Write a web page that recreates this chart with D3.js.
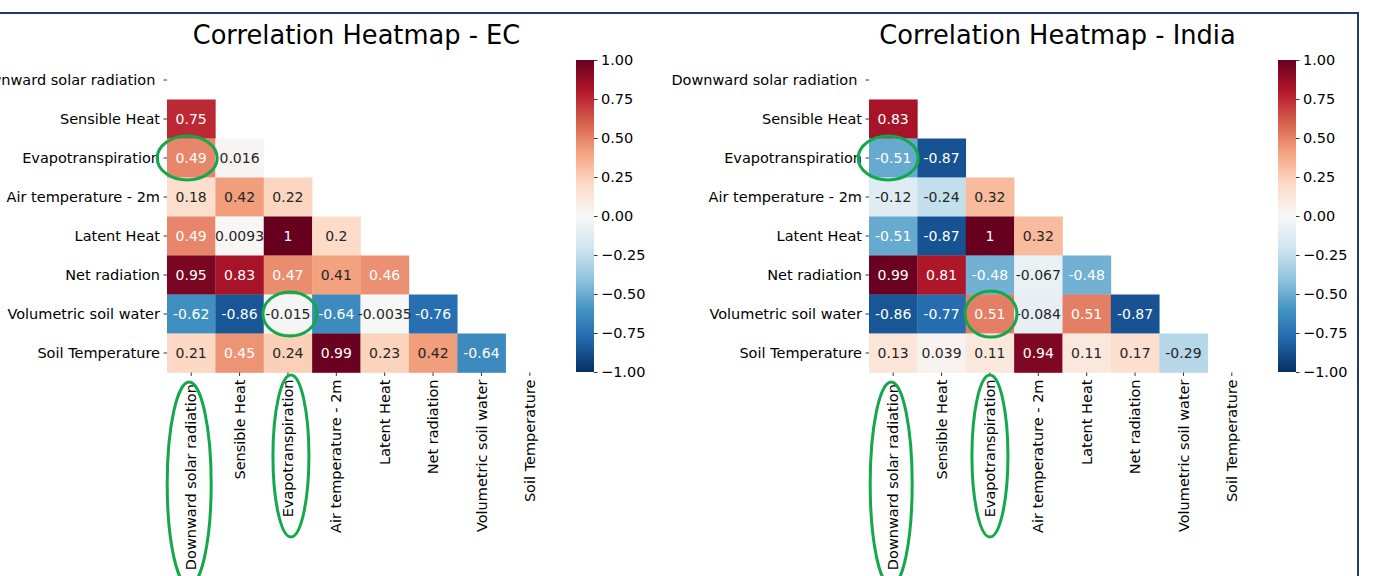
<!DOCTYPE html>
<html>
<head>
<meta charset="utf-8">
<title>Correlation Heatmaps</title>
<script src="https://d3js.org/d3.v7.min.js"></script>
<style>
  body { margin: 0; background: #fff; }
  svg { font-family: "DejaVu Sans", sans-serif; }
  .axis path { display: none; }
  .axis line { stroke: #000; stroke-width: 0.8; }
  .axis text { font-family: "DejaVu Sans", sans-serif; font-size: 14.5px; fill: #000; white-space: pre; }
</style>
</head>
<body>
<script>
  var variables = ["Downward solar radiation ", "Sensible Heat", "Evapotranspiration",
    "Air temperature - 2m", "Latent Heat", "Net radiation", "Volumetric soil water", "Soil Temperature"];

  // lower triangle only, row i holds columns 0..i-1
  var ecValues = [
    [],
    [0.75],
    [0.49, 0.016],
    [0.18, 0.42, 0.22],
    [0.49, 0.0093, 1, 0.2],
    [0.95, 0.83, 0.47, 0.41, 0.46],
    [-0.62, -0.86, -0.015, -0.64, -0.0035, -0.76],
    [0.21, 0.45, 0.24, 0.99, 0.23, 0.42, -0.64]
  ];
  var indiaValues = [
    [],
    [0.83],
    [-0.51, -0.87],
    [-0.12, -0.24, 0.32],
    [-0.51, -0.87, 1, 0.32],
    [0.99, 0.81, -0.48, -0.067, -0.48],
    [-0.86, -0.77, 0.51, -0.084, 0.51, -0.87],
    [0.13, 0.039, 0.11, 0.94, 0.11, 0.17, -0.29]
  ];
  var colorbarTicks = [-1, -0.75, -0.5, -0.25, 0, 0.25, 0.5, 0.75, 1];

  // matplotlib RdBu_r
  var rdbu = ["#67001f", "#b2182b", "#d6604d", "#f4a582", "#fddbc7", "#f7f7f7",
    "#d1e5f0", "#92c5de", "#4393c3", "#2166ac", "#053061"];
  var color = d3.scaleLinear()
    .domain(d3.range(11).map(function(i) { return 1 - i * 0.2; }))
    .range(rdbu)
    .interpolate(d3.interpolateRgb);

  var W = 1374, H = 576;
  var svg = d3.select("body").append("svg").attr("width", W).attr("height", H);

  var fmt = d3.format(".2~g");
  function label(v) { return fmt(v).replace("\u2212", "-"); }

  function luminance(c) {
    var rgb = d3.rgb(c);
    var ch = [rgb.r, rgb.g, rgb.b].map(function(v) {
      v = v / 255;
      return v <= 0.03928 ? v / 12.92 : Math.pow((v + 0.055) / 1.055, 2.4);
    });
    return 0.2126 * ch[0] + 0.7152 * ch[1] + 0.0722 * ch[2];
  }

  var grad = svg.append("defs").append("linearGradient")
    .attr("id", "cbar").attr("x1", 0).attr("x2", 0).attr("y1", 0).attr("y2", 1);
  rdbu.forEach(function(c, i) {
    grad.append("stop").attr("offset", (i / 10 * 100) + "%").attr("stop-color", c);
  });

  function drawHeatmap(opts) {
    var left = opts.left, top = 60.5, width = 387, height = 312;
    var g = svg.append("g");

    var x = d3.scaleBand().domain(d3.range(variables.length)).range([left, left + width]);
    var y = d3.scaleBand().domain(d3.range(variables.length)).range([top, top + height]);

    var cells = [];
    opts.values.forEach(function(row, i) {
      row.forEach(function(v, j) { cells.push({ r: i, c: j, v: v }); });
    });

    g.selectAll("rect.cell")
      .data(cells)
      .enter().append("rect")
      .attr("class", "cell")
      .attr("x", function(d) { return x(d.c); })
      .attr("y", function(d) { return y(d.r); })
      .attr("width", x.bandwidth() + 0.3)
      .attr("height", y.bandwidth() + 0.3)
      .attr("fill", function(d) { return color(d.v); });

    g.selectAll("text.annot")
      .data(cells)
      .enter().append("text")
      .attr("class", "annot")
      .attr("x", function(d) { return x(d.c) + x.bandwidth() / 2; })
      .attr("y", function(d) { return y(d.r) + y.bandwidth() / 2; })
      .attr("dy", "0.36em")
      .attr("text-anchor", "middle")
      .style("font-size", "14px")
      .attr("fill", function(d) { return luminance(color(d.v)) > 0.408 ? "#262626" : "#fff"; })
      .text(function(d) { return label(d.v); });

    var yAxis = d3.axisLeft(y).tickSize(3.5).tickPadding(3.5)
      .tickFormat(function(i) { return variables[i]; });
    g.append("g").attr("class", "axis")
      .attr("transform", "translate(" + left + ",0)")
      .call(yAxis);

    var xAxis = d3.axisBottom(x).tickSize(3.5).tickPadding(3.5)
      .tickFormat(function(i) { return variables[i]; });
    g.append("g").attr("class", "axis")
      .attr("transform", "translate(0," + (top + height) + ")")
      .call(xAxis)
      .selectAll("text")
      .attr("transform", "rotate(-90)")
      .attr("text-anchor", "end")
      .attr("x", -7)
      .attr("y", 0)
      .attr("dy", "0.35em");

    g.append("text")
      .attr("x", left + width / 2 + opts.titleDx)
      .attr("y", 44)
      .attr("text-anchor", "middle")
      .style("font-size", "25.7px")
      .attr("fill", "#000")
      .text(opts.title);

    // colorbar
    var cbx = left + 409, cbw = 18;
    var cy = d3.scaleLinear().domain([-1, 1]).range([top + height - 0.5, top - 0.5]);
    g.append("rect")
      .attr("x", cbx).attr("y", cy(1))
      .attr("width", cbw).attr("height", cy(-1) - cy(1))
      .attr("fill", "url(#cbar)");
    g.append("g").attr("class", "axis")
      .attr("transform", "translate(" + (cbx + cbw) + ",0)")
      .call(d3.axisRight(cy).tickValues(colorbarTicks).tickSize(3.5).tickPadding(3.5)
        .tickFormat(d3.format(".2f")));

    // green highlight ellipses
    var green = "#13a84b";
    opts.cellMarks.forEach(function(m) {
      g.append("ellipse")
        .attr("cx", x(m.c) + x.bandwidth() / 2 + (m.dx || 0))
        .attr("cy", y(m.r) + y.bandwidth() / 2)
        .attr("rx", m.rx).attr("ry", m.ry)
        .attr("fill", "none").attr("stroke", green).attr("stroke-width", 3);
    });
    opts.labelMarks.forEach(function(m) {
      g.append("ellipse")
        .attr("cx", x(m.c) + x.bandwidth() / 2 + (m.dx || 0))
        .attr("cy", m.cy)
        .attr("rx", m.rx).attr("ry", m.ry)
        .attr("fill", "none").attr("stroke", green).attr("stroke-width", 3);
    });
  }

  drawHeatmap({
    left: 167,
    title: "Correlation Heatmap - EC",
    titleDx: -4,
    values: ecValues,
    cellMarks: [{ r: 2, c: 0, rx: 30, ry: 22, dx: -4 }, { r: 6, c: 2, rx: 27, ry: 22, dx: 2 }],
    labelMarks: [{ c: 0, cy: 484, rx: 22, ry: 102, dx: -2 }, { c: 2, cy: 456, rx: 18, ry: 81, dx: 3 }]
  });
  drawHeatmap({
    left: 869,
    title: "Correlation Heatmap - India",
    titleDx: -5,
    values: indiaValues,
    cellMarks: [{ r: 2, c: 0, rx: 30, ry: 22, dx: -5 }, { r: 6, c: 2, rx: 26, ry: 23, dx: 1 }],
    labelMarks: [{ c: 0, cy: 484, rx: 21, ry: 102, dx: -2 }, { c: 2, cy: 456, rx: 18, ry: 81, dx: 0 }]
  });

  // slide frame
  svg.append("path")
    .attr("d", "M0,13H1358V" + H)
    .attr("fill", "none")
    .attr("stroke", "#1f3a6e")
    .attr("stroke-width", 2);
</script>
</body>
</html>
